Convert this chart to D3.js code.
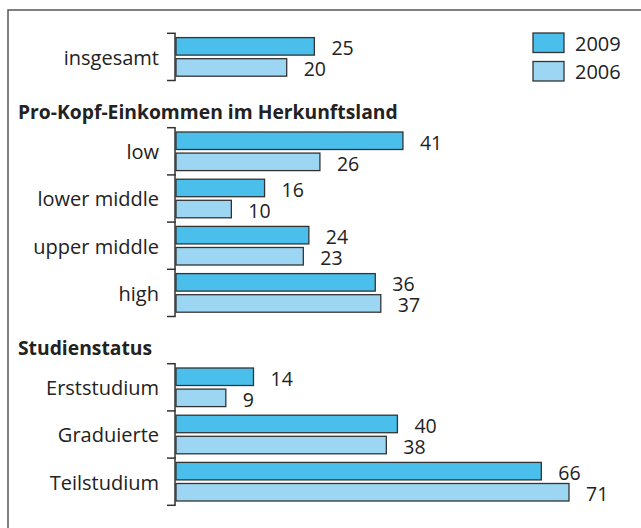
<!DOCTYPE html>
<html>
<head>
<meta charset="utf-8">
<script src="https://cdn.jsdelivr.net/npm/d3@7"></script>
<style>
  body { margin: 0; background: #fff; }
  svg { display: block; font-family: "Open Sans", sans-serif; }
</style>
</head>
<body>
<svg id="chart" width="641" height="528"></svg>
<script>
const categories = ["insgesamt", "low", "lower middle", "upper middle", "high", "Erststudium", "Graduierte", "Teilstudium"];
const values2009 = [25, 41, 16, 24, 36, 14, 40, 66];
const values2006 = [20, 26, 10, 23, 37, 9, 38, 71];
const series = ["2009", "2006"];
const sectionTitles = [null, "Pro-Kopf-Einkommen im Herkunftsland", "Studienstatus"];
const sectionSizes = [1, 4, 3];

const colors = { "2009": "#4bbfec", "2006": "#9dd6f3" };
const svg = d3.select("#chart");

// frame (right and bottom edges fall outside the picture)
svg.append("rect")
  .attr("x", 8).attr("y", 10)
  .attr("width", 700).attr("height", 600)
  .attr("fill", "none")
  .attr("stroke", "#555")
  .attr("stroke-width", 1.5);

// one slot per row: section headers take a slot of their own
let slots = [];
let k = 0;
sectionSizes.forEach((n, s) => {
  if (sectionTitles[s]) slots.push({ type: "title", text: sectionTitles[s], id: "t" + s });
  for (let j = 0; j < n; j++, k++) slots.push({ type: "cat", i: k, id: "c" + k, section: s });
});

const y = d3.scaleBand()
  .domain(slots.map(d => d.id))
  .range([33.3, 33.3 + slots.length * 47.2]);

const yInner = d3.scaleBand()
  .domain(series)
  .range([0, y.bandwidth()])
  .paddingInner(0.17)
  .paddingOuter(0.204);

const x = d3.scaleLinear()
  .domain([0, d3.max(values2006.concat(values2009))])
  .range([176, 569]);

const rows = categories.map((c, i) => ({ cat: c, id: "c" + i, vals: { "2009": values2009[i], "2006": values2006[i] } }));

// section titles
svg.selectAll(".title")
  .data(slots.filter(d => d.type === "title"))
  .join("text")
  .attr("class", "title")
  .attr("x", 18)
  .attr("y", d => y(d.id) + y.bandwidth() - 9)
  .attr("font-weight", "bold")
  .attr("font-size", 19.3)
  .attr("fill", "#222")
  .text(d => d.text);

// brackets per section
sectionSizes.forEach((n, s) => {
  const ids = slots.filter(d => d.type === "cat" && d.section === s).map(d => d.id);
  const top = y(ids[0]);
  const bottom = y(ids[ids.length - 1]) + y.bandwidth();
  const g = svg.append("g").attr("stroke", "#333").attr("stroke-width", 1.5);
  g.append("line").attr("x1", 175).attr("x2", 175).attr("y1", top).attr("y2", bottom);
  const ticks = ids.map(id => y(id)).concat([bottom]);
  g.selectAll("line.tick")
    .data(ticks)
    .join("line")
    .attr("class", "tick")
    .attr("x1", 167).attr("x2", 175.75)
    .attr("y1", d => d).attr("y2", d => d);
});

const row = svg.selectAll(".row")
  .data(rows)
  .join("g")
  .attr("class", "row")
  .attr("transform", d => `translate(0,${y(d.id)})`);

row.append("text")
  .attr("x", 159)
  .attr("y", y.bandwidth() / 2 + 8)
  .attr("text-anchor", "end")
  .attr("font-size", 20)
  .attr("fill", "#222")
  .text(d => d.cat);

series.forEach(s => {
  row.append("rect")
    .attr("x", x(0))
    .attr("y", yInner(s))
    .attr("width", d => x(d.vals[s]) - x(0))
    .attr("height", yInner.bandwidth())
    .attr("fill", colors[s])
    .attr("stroke", "#333")
    .attr("stroke-width", 1.3);

  row.append("text")
    .attr("x", d => x(d.vals[s]) + 17)
    .attr("y", yInner(s) + yInner.bandwidth() / 2 + 9)
    .attr("font-size", 19.5)
    .attr("fill", "#222")
    .text(d => d.vals[s]);
});

// legend
const legend = svg.selectAll(".legend")
  .data(series)
  .join("g")
  .attr("class", "legend")
  .attr("transform", (d, i) => `translate(533,${33 + i * 28.5})`);

legend.append("rect")
  .attr("width", 31).attr("height", 19.5)
  .attr("fill", d => colors[d])
  .attr("stroke", "#333")
  .attr("stroke-width", 1.3);

legend.append("text")
  .attr("x", 42)
  .attr("y", 17.5)
  .attr("font-size", 20)
  .attr("fill", "#222")
  .text(d => d);
</script>
</body>
</html>
